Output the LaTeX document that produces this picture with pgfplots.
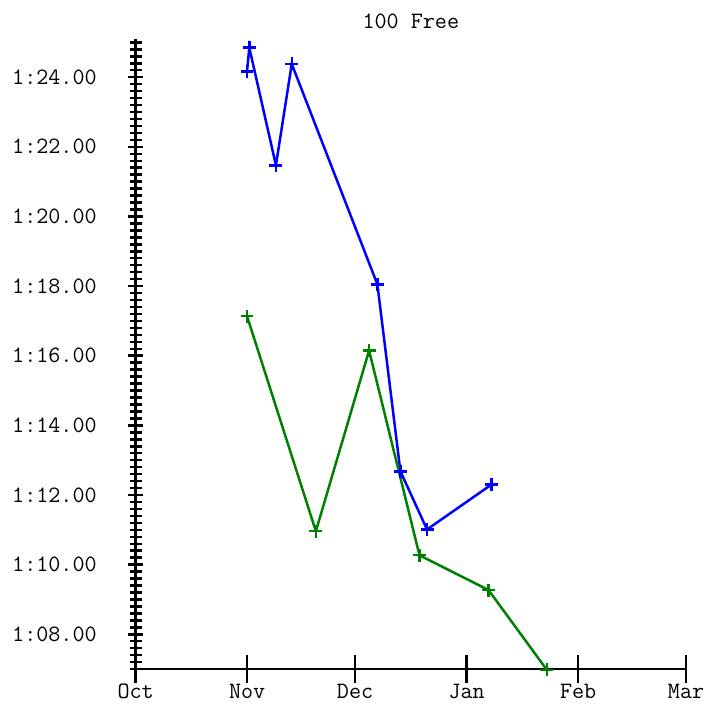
\documentclass[border=0pt]{standalone}
\usepackage{pgfplots}
\pgfplotsset{compat=1.18}
\usepackage{fontspec}
\definecolor{gblue}{RGB}{0,0,255}
\definecolor{ggreen}{RGB}{0,128,0}
\begin{document}
\begin{tikzpicture}
\useasboundingbox (-136pt,-36pt) rectangle (574pt,671pt);
\begin{axis}[
  at={(0,0)}, anchor=south west,
  scale only axis, width=552pt, height=632pt,
  xmin=0, xmax=153, ymin=67, ymax=85.1,
  axis lines*=left,
  axis line style={line width=2.5pt, black},
  every tick/.style={line width=2.5pt, black},
  tick align=center,
  major tick length=15pt, minor tick length=12pt,
  xtick={0,31,61,92,123,153},
  xticklabels={Oct,Nov,Dec,Jan,Feb,Mar},
  xtick style={/pgfplots/major tick length=28pt},
  xticklabel style={anchor=base, yshift=-22pt, inner sep=0pt, text height=1.6ex, text depth=0pt},
  ytick={68,70,72,74,76,78,80,82,84},
  yticklabels={1:08.00,1:10.00,1:12.00,1:14.00,1:16.00,1:18.00,1:20.00,1:22.00,1:24.00},
  yticklabel style={anchor=east, xshift=-28pt},
  minor ytick={67,67.2,...,85.1},
  tick label style={font=\fontsize{23.5}{26}\ttfamily},
  title={100 Free},
  title style={font=\fontsize{23.5}{26}\ttfamily, yshift=1pt},
  clip=false,
]
\addplot[color=gblue, line width=2.5pt, mark=+, mark size=6.5pt, mark options={line width=2.5pt}] coordinates {
(30.96,84.16) (31.6,84.85) (39.0,81.47) (43.4,84.38) (67.2,78.05) (73.6,72.68) (81.0,71.01) (98.9,72.30)
};
\addplot[color=ggreen, line width=2.5pt, mark=+, mark size=6.5pt, mark options={line width=2.5pt}] coordinates {
(30.96,77.14) (50.1,70.96) (64.9,76.15) (78.9,70.27) (98.1,69.27) (114.3,66.98)
};
\end{axis}
\end{tikzpicture}
\end{document}
